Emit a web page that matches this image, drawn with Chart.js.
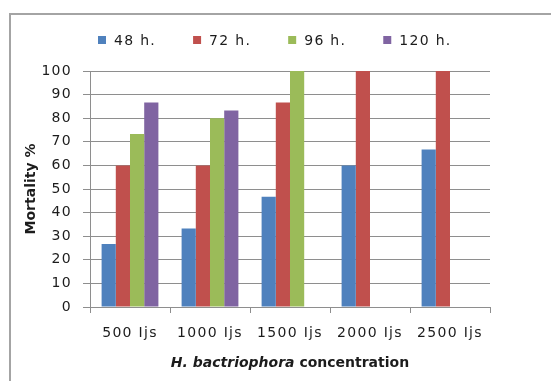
<!DOCTYPE html>
<html>
<head>
<meta charset="utf-8">
<script src="https://cdn.jsdelivr.net/npm/chart.js@4"></script>
<style>
  html, body { margin: 0; padding: 0; background: #fff; }
  canvas { display: block; }
</style>
</head>
<body>
<canvas id="chart" width="551" height="381"></canvas>
<script>
// Concentrations of infective juveniles and mortality (%) after each exposure time
const categories = ['500 Ijs', '1000 Ijs', '1500 Ijs', '2000 Ijs', '2500 Ijs'];
const seriesLabels = ['48 h.', '72 h.', '96 h.', '120 h.'];
const mortality48 = [26.7, 33.3, 46.7, 60, 66.7];
const mortality72 = [60, 60, 86.7, 100, 100];
const mortality96 = [73.3, 80, 100, null, null];
const mortality120 = [86.7, 83.3, null, null, null];
const yTicks = { min: 0, max: 100, step: 10 };
const yTitle = 'Mortality %';
const xTitleItalic = 'H. bactriophora';
const xTitleRest = ' concentration';

const COLORS = ['#4F81BD', '#C0504D', '#9BBB59', '#8064A2'];
const GRID = '#8e8e8e';
const TEXT = '#1c1c1c';
const FONT = 'DejaVu Sans';
const SPACING = '1.3px';

const seriesValues = [mortality48, mortality72, mortality96, mortality120];

// Text on this chart is drawn with a little extra tracking
const tracking = {
  id: 'tracking',
  beforeLayout(chart) { chart.ctx.letterSpacing = SPACING; },
  beforeDraw(chart) {
    const ctx = chart.ctx;
    ctx.save();
    ctx.letterSpacing = '0px';
    ctx.fillStyle = '#fff';
    ctx.fillRect(0, 0, chart.width, chart.height);
    // outer frame of the chart
    ctx.strokeStyle = '#a4a4a4';
    ctx.lineWidth = 2;
    ctx.strokeRect(10, 14, chart.width + 20, chart.height + 20);
    ctx.restore();
    ctx.letterSpacing = SPACING;
  }
};

// Legend row and axis titles
const decorations = {
  id: 'decorations',
  afterDraw(chart) {
    const ctx = chart.ctx;
    const area = chart.chartArea;
    ctx.save();

    // legend
    ctx.font = '14px "' + FONT + '"';
    ctx.letterSpacing = SPACING;
    ctx.textBaseline = 'middle';
    ctx.textAlign = 'left';
    const box = 8, gap = 8, itemGap = 37, ly = 40;
    const items = chart.data.datasets.map(d => ({
      label: d.label, color: d.backgroundColor, w: ctx.measureText(d.label).width
    }));
    const total = items.reduce((s, it) => s + box + gap + it.w, 0) + itemGap * (items.length - 1);
    let x = Math.round(chart.width / 2 - total / 2) - 1;
    items.forEach(it => {
      ctx.fillStyle = it.color;
      ctx.fillRect(x, ly - 4, box, box);
      ctx.fillStyle = TEXT;
      ctx.fillText(it.label, x + box + gap, ly + 1);
      x += box + gap + it.w + itemGap;
    });

    // y axis title
    ctx.letterSpacing = '0px';
    ctx.font = 'bold 14px "' + FONT + '"';
    ctx.textAlign = 'center';
    ctx.fillStyle = TEXT;
    ctx.save();
    ctx.translate(31, (area.top + area.bottom) / 2);
    ctx.rotate(-Math.PI / 2);
    ctx.fillText(yTitle, 0, 0);
    ctx.restore();

    // x axis title: species name in italics
    const italicFont = 'italic bold 14px "' + FONT + '"';
    const boldFont = 'bold 14px "' + FONT + '"';
    ctx.font = italicFont;
    const w1 = ctx.measureText(xTitleItalic).width;
    ctx.font = boldFont;
    const w2 = ctx.measureText(xTitleRest).width;
    let tx = (area.left + area.right) / 2 - (w1 + w2) / 2;
    const ty = 363;
    ctx.textAlign = 'left';
    ctx.font = italicFont;
    ctx.fillText(xTitleItalic, tx, ty);
    ctx.font = boldFont;
    ctx.fillText(xTitleRest, tx + w1, ty);

    ctx.restore();
    ctx.letterSpacing = SPACING;
  }
};

const tickFont = { family: FONT, size: 14 };

new Chart(document.getElementById('chart'), {
  type: 'bar',
  data: {
    labels: categories,
    datasets: seriesLabels.map((label, i) => ({
      label,
      data: seriesValues[i],
      backgroundColor: COLORS[i],
      borderWidth: 0,
      categoryPercentage: 0.71,
      barPercentage: 1
    }))
  },
  options: {
    responsive: false,
    animation: false,
    devicePixelRatio: 1,
    layout: { padding: { top: 71, right: 61, bottom: 0, left: 0 } },
    plugins: { legend: { display: false }, tooltip: { enabled: false } },
    scales: {
      x: {
        grid: { display: true, drawOnChartArea: false, drawTicks: true, tickLength: 6, color: GRID, offset: true },
        border: { color: GRID, width: 1 },
        ticks: { font: tickFont, color: TEXT, padding: 12, maxRotation: 0, autoSkip: false },
        afterFit(scale) { scale.height = 74; }
      },
      y: {
        min: yTicks.min,
        max: yTicks.max,
        ticks: { stepSize: yTicks.step, font: tickFont, color: TEXT, padding: 11 },
        grid: { color: GRID, tickLength: 7, lineWidth: 1 },
        border: { color: GRID, width: 1 },
        afterFit(scale) { scale.width = 90; }
      }
    }
  },
  plugins: [tracking, decorations]
});
</script>
</body>
</html>
